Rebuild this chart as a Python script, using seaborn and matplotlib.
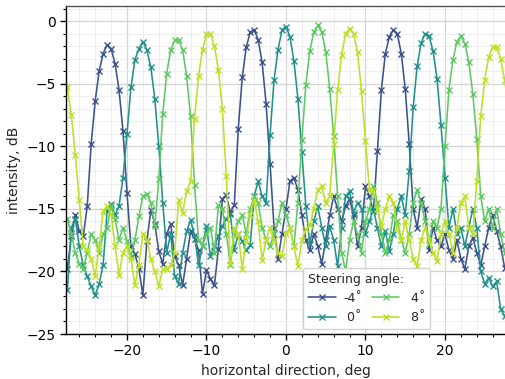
import numpy as np
import pandas as pd
import matplotlib
matplotlib.use("Agg")
import matplotlib.pyplot as plt
import seaborn as sns
from matplotlib.ticker import MultipleLocator
from matplotlib.lines import Line2D

angles = [-28.0, -27.5, -27.0, -26.5, -26.0, -25.5, -25.0, -24.5, -24.0, -23.5,
          -23.0, -22.5, -22.0, -21.5, -21.0, -20.5, -20.0, -19.5, -19.0, -18.5,
          -18.0, -17.5, -17.0, -16.5, -16.0, -15.5, -15.0, -14.5, -14.0, -13.5,
          -13.0, -12.5, -12.0, -11.5, -11.0, -10.5, -10.0, -9.5, -9.0, -8.5,
          -8.0, -7.5, -7.0, -6.5, -6.0, -5.5, -5.0, -4.5, -4.0, -3.5,
          -3.0, -2.5, -2.0, -1.5, -1.0, -0.5, 0.0, 0.5, 1.0, 1.5,
          2.0, 2.5, 3.0, 3.5, 4.0, 4.5, 5.0, 5.5, 6.0, 6.5,
          7.0, 7.5, 8.0, 8.5, 9.0, 9.5, 10.0, 10.5, 11.0, 11.5,
          12.0, 12.5, 13.0, 13.5, 14.0, 14.5, 15.0, 15.5, 16.0, 16.5,
          17.0, 17.5, 18.0, 18.5, 19.0, 19.5, 20.0, 20.5, 21.0, 21.5,
          22.0, 22.5, 23.0, 23.5, 24.0, 24.5, 25.0, 25.5, 26.0, 26.5,
          27.0, 27.5, 28.0]

steer_m4 = [-17.8, -19.8, -17.2, -15.5, -16.8, -17.2, -14.8, -9.8, -6.4, -4.0,
            -2.6, -1.9, -2.2, -3.4, -5.5, -8.8, -13.7, -18.0, -18.6, -19.8,
            -21.9, -17.6, -15.1, -16.2, -18.4, -19.4, -17.0, -16.2, -18.8, -19.5,
            -21.1, -19.0, -16.8, -17.4, -18.3, -21.8, -19.9, -20.6, -21.1, -18.2,
            -14.2, -13.9, -15.3, -14.7, -8.6, -4.5, -2.1, -0.9, -0.7, -1.5,
            -3.3, -6.6, -11.4, -16.5, -19.0, -17.0, -15.0, -12.8, -12.5, -13.5,
            -15.5, -17.5, -18.3, -17.0, -18.0, -19.4, -17.5, -15.5, -14.0, -15.0,
            -16.0, -14.8, -14.2, -15.5, -18.0, -16.5, -13.2, -14.0, -15.2, -10.4,
            -5.5, -2.6, -1.25, -0.72, -1.0, -2.6, -5.4, -9.8, -15.0, -16.5,
            -14.2, -15.0, -18.3, -16.5, -17.5, -18.0, -17.0, -18.3, -19.0, -17.5,
            -19.0, -19.8, -18.0, -17.3, -18.5, -19.5, -18.0, -16.5, -15.5, -16.8,
            -18.0, -19.7, -20.5]

steer_0 = [-19.0, -21.5, -16.5, -15.8, -18.0, -19.5, -20.4, -21.2, -21.9, -21.0,
           -19.5, -15.2, -14.6, -15.5, -14.8, -12.5, -9.0, -5.3, -3.1, -2.2,
           -1.65, -2.3, -3.7, -6.2, -10.0, -14.5, -18.5, -17.0, -20.4, -21.0,
           -18.5, -16.8, -15.9, -17.1, -19.5, -18.0, -16.4, -18.8, -18.0, -17.2,
           -16.4, -15.8, -15.4, -18.3, -17.0, -17.6, -18.3, -17.9, -14.0, -12.8,
           -14.0, -14.5, -9.1, -4.7, -2.3, -0.7, -0.45, -1.25, -3.2, -6.2,
           -10.5, -14.8, -17.8, -16.0, -14.8, -16.5, -18.0, -16.4, -17.5, -19.6,
           -16.5, -14.0, -13.6, -15.3, -14.5, -15.0, -17.0, -16.0, -15.0, -16.5,
           -18.0, -16.8, -18.4, -17.0, -15.0, -14.0, -15.5, -12.0, -6.9, -3.6,
           -1.75, -1.0, -1.2, -2.4, -4.6, -8.3, -12.5, -16.5, -15.0, -17.0,
           -16.5, -18.0, -16.5, -15.0, -16.5, -20.0, -21.0, -20.5, -21.2, -20.8,
           -23.0, -23.6, -23.0]

steer_4 = [-15.5, -15.8, -17.0, -18.5, -19.4, -19.8, -18.5, -17.0, -17.5, -18.5,
           -17.0, -16.5, -14.8, -15.8, -17.5, -16.5, -17.6, -18.8, -17.5, -15.6,
           -14.0, -13.8, -14.5, -16.4, -12.6, -7.4, -4.2, -2.3, -1.55, -1.5,
           -2.3, -4.4, -7.6, -13.1, -17.5, -18.0, -17.0, -16.5, -18.5, -14.7,
           -15.0, -17.0, -19.5, -17.0, -16.0, -15.5, -17.0, -15.0, -14.0, -14.5,
           -16.5, -17.5, -18.0, -17.0, -16.0, -14.5, -15.5, -16.5, -18.0, -14.5,
           -9.5, -5.1, -2.4, -0.85, -0.35, -0.85, -2.45, -5.4, -9.2, -14.0,
           -18.5, -20.0, -17.5, -16.0, -17.0, -18.5, -16.0, -15.0, -13.2, -14.5,
           -17.0, -18.5, -17.5, -15.5, -16.0, -17.5, -18.5, -17.0, -14.5, -13.5,
           -14.5, -16.0, -17.8, -16.0, -16.5, -15.0, -10.0, -5.5, -3.1, -1.65,
           -1.2, -1.8, -3.3, -5.8, -9.4, -14.0, -16.0, -15.0, -16.5, -15.0,
           -17.0, -18.5, -18.0]

steer_8 = [-3.9, -5.3, -7.5, -10.7, -14.3, -18.0, -18.3, -19.0, -20.4, -18.0,
           -15.2, -14.8, -15.4, -18.0, -20.3, -18.5, -18.0, -19.0, -21.1, -19.5,
           -17.0, -17.5, -19.0, -20.0, -21.2, -19.8, -19.8, -19.5, -18.5, -14.3,
           -15.3, -13.6, -12.8, -7.8, -4.4, -2.3, -1.05, -1.0, -2.0, -3.9,
           -7.0, -12.4, -19.4, -16.5, -17.0, -19.8, -17.5, -15.5, -14.3, -16.0,
           -19.1, -17.5, -16.5, -17.5, -18.5, -18.8, -17.0, -16.5, -18.0, -19.6,
           -17.5, -16.6, -16.3, -15.0, -13.5, -13.2, -14.5, -14.0, -9.8, -5.5,
           -2.7, -1.0, -0.6, -1.0, -2.5, -5.6, -9.6, -13.5, -13.5, -15.0,
           -16.4, -15.0, -14.0, -14.5, -16.5, -17.5, -16.0, -17.5, -19.0, -19.6,
           -17.5, -16.5, -17.5, -18.5, -19.2, -17.0, -16.0, -17.0, -18.5, -16.5,
           -14.5, -14.0, -16.5, -17.0, -12.8, -7.6, -4.7, -2.9, -2.1, -2.1,
           -3.0, -4.7, -7.0]

steer_labels = ["-4\u02da", " 0\u02da", " 4\u02da", " 8\u02da"]
colors = ["#3b528b", "#21918c", "#5ec962", "#bddf26"]

sns.set_theme(style="ticks")
plt.rcParams["font.family"] = ["DejaVu Sans"]

series = [steer_m4, steer_0, steer_4, steer_8]
df = pd.concat([pd.DataFrame({"angle": angles, "intensity": vals, "steer": lab})
                for vals, lab in zip(series, steer_labels)], ignore_index=True)

fig = plt.figure(figsize=(5.05, 3.79), dpi=100)
ax = fig.add_axes([66 / 505, 1 - 334 / 379, 439 / 505, 328 / 379])

MS, MEW, LW = 5.0, 1.0, 1.15
sns.lineplot(data=df, x="angle", y="intensity", hue="steer", hue_order=steer_labels,
             palette=colors, marker="x", markersize=MS, linewidth=LW,
             estimator=None, sort=False, legend=False, ax=ax)
for line in ax.get_lines():
    line.set_markeredgecolor(line.get_color())
    line.set_markerfacecolor(line.get_color())
    line.set_markeredgewidth(MEW)

ax.set_xlim(-27.67, 27.55)
ax.set_ylim(-25, 1.2)
ax.xaxis.set_major_locator(MultipleLocator(10))
ax.xaxis.set_minor_locator(MultipleLocator(2))
ax.yaxis.set_major_locator(MultipleLocator(5))
ax.yaxis.set_minor_locator(MultipleLocator(1))
ax.set_axisbelow(True)
ax.grid(which="major", color="#d4d4d4", linewidth=0.9)
ax.grid(which="minor", color="#ececec", linewidth=0.6)

ax.tick_params(which="major", length=4, width=1, labelsize=10, colors="black")
ax.tick_params(which="minor", length=2.2, width=0.8, colors="black")
for s in ["left", "bottom"]:
    ax.spines[s].set_color("black")
    ax.spines[s].set_linewidth(1.0)
ax.spines["top"].set_color("#555555")
ax.spines["top"].set_linewidth(1.0)
ax.spines["right"].set_visible(False)

ax.set_xlabel("horizontal direction, deg", fontsize=10)
ax.set_ylabel("intensity, dB", fontsize=10)

handles = [Line2D([], [], color=c, marker="x", markersize=MS, markeredgewidth=MEW,
                  linewidth=LW) for c in colors]
leg = ax.legend(handles, steer_labels, title="Steering angle:", ncol=2,
                loc="lower left", bbox_to_anchor=(0.54, 0.015), borderaxespad=0,
                fontsize=9, title_fontsize=9, columnspacing=0.8, handlelength=2.2,
                handletextpad=0.6, frameon=True, fancybox=True, alignment="left")
leg.get_frame().set_edgecolor("#cccccc")
leg.get_frame().set_alpha(0.9)

fig.savefig("out.png", dpi=100)
